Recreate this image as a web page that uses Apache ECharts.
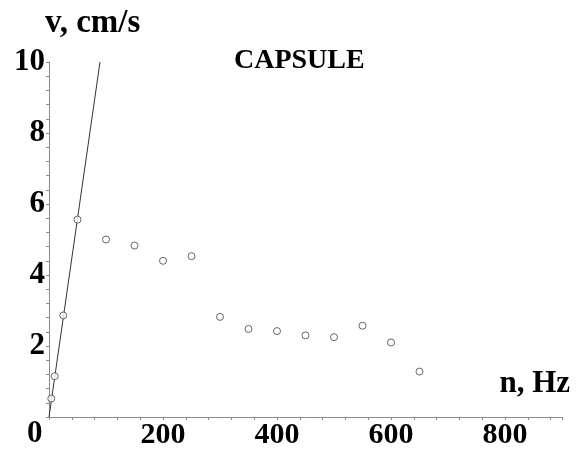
<!DOCTYPE html>
<html>
<head>
<meta charset="utf-8">
<script src="https://cdn.jsdelivr.net/npm/echarts@6/dist/echarts.min.js"></script>
<style>html,body{margin:0;padding:0;background:#fff}#c{width:577px;height:450px}</style>
</head>
<body>
<div id="c"></div>
<script>
// Measured points: frequency (Hz) and velocity (cm/s)
const freq = [4, 10, 25, 50, 100, 150, 200, 250, 300, 350, 400, 450, 500, 550, 600, 650];
const vel  = [0.52, 1.15, 2.86, 5.56, 5.0, 4.83, 4.4, 4.53, 2.82, 2.48, 2.42, 2.3, 2.25, 2.57, 2.1, 1.28];
// Straight line through origin
const lineX = [0, 89.5];
const lineY = [0, 10];
const xTicks = [0, 200, 400, 600, 800];
const yTicks = [0, 2, 4, 6, 8, 10];
const titleText = 'CAPSULE';
const xName = 'n, Hz';
const yName = 'v, cm/s';

const font = 'Liberation Serif';
const chart = echarts.init(document.getElementById('c'), null, {renderer: 'canvas'});
const axisGray = '#8a8a8a';
chart.setOption({
  animation: false,
  backgroundColor: '#fff',
  title: {
    text: titleText, left: 229, top: 42,
    textStyle: {fontFamily: font, fontWeight: 'bold', fontSize: 28, color: '#000'}
  },
  grid: {left: 49, right: 15, top: 62, bottom: 33},
  xAxis: {
    type: 'value', min: 0, max: 900, interval: 200,
    name: xName, nameLocation: 'end', nameGap: 8,
    nameTextStyle: {fontFamily: font, fontWeight: 'bold', fontSize: 31, color: '#000', align: 'right', verticalAlign: 'bottom', padding: [0, 0, 18, 0]},
    axisLine: {show: true, lineStyle: {color: axisGray, width: 1}},
    axisTick: {show: true, inside: false, length: 3, lineStyle: {color: axisGray}},
    minorTick: {show: true, splitNumber: 5, length: 3, lineStyle: {color: axisGray}},
    splitLine: {show: false},
    axisLabel: {
      fontFamily: font, fontWeight: 'bold', fontSize: 30, color: '#000', margin: 3,
      formatter: v => (xTicks.indexOf(v) > 0 ? String(v) : ''),
      showMaxLabel: false
    }
  },
  yAxis: {
    type: 'value', min: 0, max: 10, interval: 2,
    name: yName, nameLocation: 'end', nameGap: 22,
    nameTextStyle: {fontFamily: font, fontWeight: 'bold', fontSize: 33, color: '#000', align: 'left', verticalAlign: 'bottom', padding: [0, 0, 0, -4]},
    axisLine: {show: true, lineStyle: {color: axisGray, width: 1}},
    axisTick: {show: true, inside: false, length: 3, lineStyle: {color: axisGray}},
    minorTick: {show: true, splitNumber: 5, length: 3, lineStyle: {color: axisGray}},
    splitLine: {show: false},
    axisLabel: {
      fontFamily: font, fontWeight: 'bold', fontSize: 31, color: '#000', margin: 4,
      formatter: v => (yTicks.indexOf(v) > 0 ? String(v) : '')
    }
  },
  graphic: [{
    type: 'text', left: 27, top: 418,
    style: {text: '0', fontFamily: font, fontWeight: 'bold', fontSize: 31, fill: '#000'}
  }],
  series: [
    {
      type: 'line', data: lineX.map((x, i) => [x, lineY[i]]),
      showSymbol: false, symbol: 'none',
      lineStyle: {color: '#333', width: 1}, z: 2
    },
    {
      type: 'scatter', data: freq.map((x, i) => [x, vel[i]]),
      symbol: 'circle', symbolSize: 7,
      itemStyle: {color: '#fff', borderColor: '#444', borderWidth: 1}, z: 3
    }
  ]
});
</script>
</body>
</html>
